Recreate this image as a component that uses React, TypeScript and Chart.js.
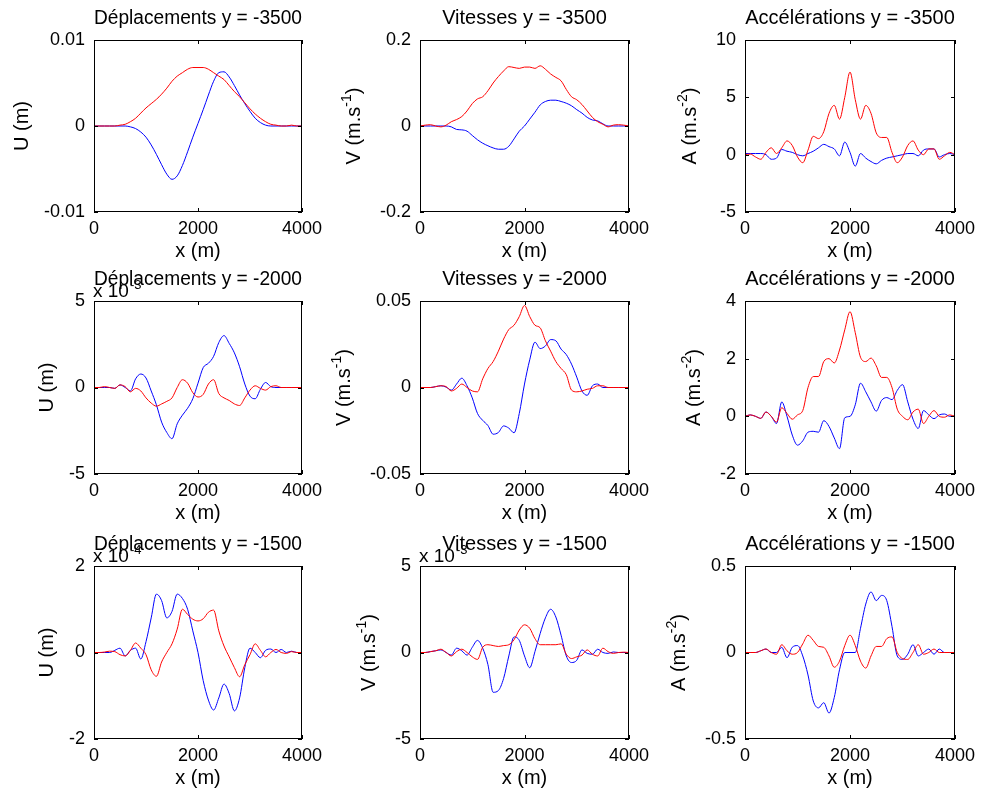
import React, { useEffect, useRef } from "react";
import { Chart, registerables } from "chart.js";

Chart.register(...registerables);

const FONT = '"Liberation Sans", Arial, Helvetica, sans-serif';

// x positions (m)
const xPositions = [0, 100, 200, 300, 400, 500, 600, 700, 800, 900, 1000, 1100, 1200, 1300, 1400, 1500, 1600, 1700, 1800, 1900, 2000, 2100, 2200, 2300, 2400, 2500, 2600, 2700, 2800, 2900, 3000, 3100, 3200, 3300, 3400, 3500, 3600, 3700, 3800, 3900, 4000];

// y = -3500
const uRed3500 = [0, 0, 0, 0, 0, 0.0001, 0.0002, 0.0005, 0.0009, 0.0015, 0.0021, 0.0026, 0.0031, 0.0037, 0.0044, 0.0052, 0.0058, 0.0062, 0.0066, 0.0068, 0.0068, 0.0068, 0.0066, 0.0062, 0.0058, 0.0054, 0.0047, 0.004, 0.0034, 0.0027, 0.002, 0.0014, 0.0009, 0.0005, 0.0002, 0.0001, 0, 0, 0.0001, 0, 0];
const uBlue3500 = [0, 0, 0, 0, 0, 0, 0, -0.0001, -0.0003, -0.0007, -0.0013, -0.0022, -0.0033, -0.0045, -0.0056, -0.0062, -0.0058, -0.0046, -0.003, -0.0013, 0.0003, 0.0019, 0.0036, 0.0052, 0.0062, 0.0063, 0.0057, 0.0047, 0.0036, 0.0026, 0.0017, 0.0009, 0.0004, 0.0001, 0, 0, 0, 0, 0, 0, 0];
const vRed3500 = [0, 0.002, 0.003, 0, -0.002, 0.002, 0.01, 0.015, 0.022, 0.035, 0.052, 0.063, 0.068, 0.082, 0.1, 0.115, 0.128, 0.138, 0.136, 0.134, 0.137, 0.137, 0.134, 0.14, 0.132, 0.121, 0.113, 0.105, 0.085, 0.068, 0.061, 0.05, 0.035, 0.02, 0.01, 0.004, -0.002, 0.002, 0.003, 0.002, 0];
const vBlue3500 = [0, 0, 0, 0, 0, 0, -0.002, -0.008, -0.009, -0.012, -0.022, -0.032, -0.04, -0.046, -0.051, -0.054, -0.054, -0.047, -0.03, -0.012, 0, 0.016, 0.032, 0.049, 0.057, 0.06, 0.06, 0.057, 0.053, 0.047, 0.038, 0.03, 0.02, 0.014, 0.012, 0.005, 0, 0, 0, 0, 0];
const aRed3500 = [0, 0.05, -0.2, -0.4, 0.2, 0.6, 0.1, 0.6, 1.2, 0.8, -0.2, -0.7, 0.4, 1.6, 1.4, 2.0, 3.6, 4.3, 3.1, 5.0, 7.2, 4.8, 3.1, 4.3, 3.6, 1.9, 1.5, 1.5, 0.2, -0.7, -0.2, 0.8, 1.2, 0.4, 0.0, 0.5, 0.5, -0.4, -0.1, 0.2, 0];
const aBlue3500 = [0.1, 0.1, 0.1, 0.1, 0.0, -0.4, -0.3, 0.45, 0.3, 0.2, 0.0, -0.1, 0.1, 0.3, 0.6, 0.9, 0.7, 0.5, -0.1, 1.1, 0.2, -1.0, 0.1, -0.3, -0.6, -0.8, -0.5, -0.3, -0.2, -0.1, 0.0, 0.1, 0.1, -0.1, 0.4, 0.5, 0.5, -0.2, 0.0, 0.1, 0];

// y = -2000
const uRed2000 = [0, 0, 0.05, 0, -0.05, 0.15, 0.05, -0.25, -0.05, -0.2, -0.6, -0.9, -1.08, -0.95, -0.8, -0.6, 0.0, 0.45, 0.25, -0.3, -0.55, -0.4, 0.2, 0.45, -0.35, -0.6, -0.75, -0.95, -1.04, -0.6, -0.15, 0.1, -0.05, -0.15, 0.05, 0.1, 0, 0, 0, 0, 0];
const uBlue2000 = [0, 0, 0, 0, -0.05, 0.15, 0.0, -0.2, 0.5, 0.78, 0.55, -0.2, -1.0, -2.0, -2.6, -2.96, -2.1, -1.6, -1.2, -0.65, 0.25, 1.15, 1.4, 1.8, 2.6, 3.0, 2.55, 2.0, 1.2, 0.2, -0.5, -0.65, -0.1, 0.29, 0.05, 0, 0, 0, 0, 0, 0];
const vRed2000 = [0, 0, 0, 0.0005, 0.001, 0.0005, -0.002, -0.0005, 0.002, 0, -0.002, -0.0025, 0.005, 0.011, 0.015, 0.021, 0.028, 0.0335, 0.036, 0.041, 0.0474, 0.041, 0.036, 0.0345, 0.027, 0.021, 0.015, 0.011, 0.0074, -0.0015, -0.0025, -0.002, -0.001, -0.0005, 0.001, 0.001, 0, 0, 0, 0, 0];
const vBlue2000 = [0, 0, 0, 0.0005, 0.001, 0.0002, -0.0015, 0.002, 0.0054, 0.001, -0.006, -0.015, -0.019, -0.022, -0.027, -0.026, -0.0222, -0.0235, -0.0262, -0.015, 0.002, 0.016, 0.0262, 0.0225, 0.024, 0.0277, 0.027, 0.0222, 0.019, 0.0135, 0.006, -0.002, -0.0045, 0.001, 0.002, 0, 0, 0, 0, 0, 0];
const aRed2000 = [0, 0.05, 0, -0.07, 0.15, 0, -0.2, 0.3, 0.1, -0.1, 0.05, 0.2, 1.0, 1.38, 1.38, 1.9, 2.0, 1.85, 2.3, 3.0, 3.63, 2.9, 2.05, 1.9, 2.02, 1.75, 1.35, 1.35, 1.0, 0.25, 0.0, -0.12, 0.15, 0.25, -0.25, 0.0, 0.2, 0.0, -0.03, 0.05, 0];
const aBlue2000 = [0, 0.05, 0, -0.07, 0.15, 0, -0.25, 0.5, 0.0, -0.65, -1.0, -0.85, -0.55, -0.52, -0.55, -0.15, -0.35, -0.75, -1.12, -0.05, 0.0, 0.4, 1.15, 0.85, 0.5, 0.18, 0.55, 0.65, 0.58, 0.9, 1.1, 0.5, -0.1, -0.42, 0.2, 0.05, -0.08, 0.05, 0.08, 0, 0];

// y = -1500
const uRed1500 = [0, 0, 0.01, 0.03, 0.02, -0.05, -0.08, 0.05, 0.22, 0.1, -0.05, -0.4, -0.55, -0.22, 0.0, 0.2, 0.54, 1.0, 0.88, 0.77, 0.73, 0.78, 0.93, 0.98, 0.5, 0.15, -0.1, -0.35, -0.56, -0.28, -0.05, 0.2, 0.05, -0.1, 0.0, 0.07, 0.0, -0.02, 0.02, 0, 0];
const uBlue1500 = [0, 0, 0, 0, 0.05, 0.1, -0.08, 0.05, 0.1, -0.15, 0.25, 0.8, 1.35, 1.2, 0.8, 0.95, 1.35, 1.25, 1.0, 0.5, 0.0, -0.65, -1.1, -1.33, -1.05, -0.73, -0.95, -1.35, -1.05, -0.35, 0.1, 0.0, -0.12, 0.05, 0.08, 0.0, 0.07, 0.0, 0.03, 0, 0];
const vRed1500 = [0, 0, 0.05, 0.1, 0.19, 0.0, -0.2, 0.05, 0.19, 0.0, -0.25, -0.4, 0.3, 0.45, 0.4, 0.35, 0.4, 0.45, 0.74, 1.3, 1.6, 1.4, 0.8, 0.45, 0.45, 0.45, 0.45, 0.5, -0.1, -0.35, -0.25, -0.15, 0.15, -0.1, -0.2, 0.25, 0.05, -0.05, 0.0, 0.02, 0];
const vBlue1500 = [0, 0, 0.05, 0.1, 0.15, 0.0, -0.15, 0.25, 0.1, -0.15, 0.3, 0.7, 0.25, -0.7, -2.3, -2.2, -1.5, -0.2, 0.9, 0.7, -0.2, -0.88, 0.05, 1.1, 2.0, 2.5, 2.05, 1.0, -0.2, -0.58, -0.45, 0.15, -0.05, -0.1, 0.19, 0.0, -0.05, 0.03, 0.0, 0, 0];
const aRed1500 = [0, 0, 0, 0.01, 0.02, 0.0, -0.01, 0.045, 0.01, -0.01, 0.0, 0.05, 0.1, 0.07, 0.035, 0.03, -0.02, -0.085, -0.05, 0.04, 0.1, 0.04, -0.05, -0.09, -0.02, 0.035, 0.035, 0.08, 0.09, 0.0, -0.035, -0.04, 0.0, 0.045, -0.01, 0.0, 0.02, 0.0, 0.0, 0, 0];
const aBlue1500 = [0, 0, 0, 0.01, 0.02, 0.0, 0.0, 0.03, -0.03, 0.03, 0.04, -0.02, -0.13, -0.28, -0.32, -0.29, -0.35, -0.26, -0.1, 0.0, 0.0, 0.0, 0.14, 0.28, 0.35, 0.3, 0.33, 0.3, 0.15, -0.02, -0.04, -0.01, 0.045, -0.02, 0.0, 0.02, -0.01, 0.02, 0.0, 0, 0];

// axis ticks
const xTickStep = 2000;
const panelTitles = [
  "Déplacements y = -3500", "Vitesses y = -3500", "Accélérations y = -3500",
  "Déplacements y = -2000", "Vitesses y = -2000", "Accélérations y = -2000",
  "Déplacements y = -1500", "Vitesses y = -1500", "Accélérations y = -1500",
];
const yMins = [-0.01, -0.2, -5, -5, -0.05, -2, -2, -5, -0.5];
const yMaxs = [0.01, 0.2, 10, 5, 0.05, 4, 2, 5, 0.5];
const ySteps = [0.01, 0.2, 5, 5, 0.05, 2, 2, 5, 0.5];
const exponents = ["", "", "", "-3", "", "", "-4", "-3", ""];
const redSeries = [uRed3500, vRed3500, aRed3500, uRed2000, vRed2000, aRed2000, uRed1500, vRed1500, aRed1500];
const blueSeries = [uBlue3500, vBlue3500, aBlue3500, uBlue2000, vBlue2000, aBlue2000, uBlue1500, vBlue1500, aBlue1500];
const yLabelMain = ["U (m)", "V (m.s", "A (m.s"];
const yLabelSup = ["", "-1", "-2"];
const yLabelClose = ["", ")", ")"];

// layout
const COL_LEFT = [94, 420, 745];
const COL_W = [208, 209, 210];
const ROW_TOP = [40, 301, 566];
const ROW_H = [172, 173, 173];
const L_MARGIN = 94;
const T_MARGIN = 40;
const R_MARGIN = 30;
const B_MARGIN = 58;
const TICK_FONT = 18;
const LABEL_FONT = 20;
const TICK_PAD = 9;

const fmt = (v: number) => {
  const n = Number(Number(v).toPrecision(6));
  return n === 0 ? "0" : String(n);
};

const decorPlugin = {
  id: "decor",
  afterDraw(chart: any, _args: any, opts: any) {
    const { ctx, chartArea } = chart;
    const { left, right, top, bottom } = chartArea;
    const xs = chart.scales.x;
    const ys = chart.scales.y;
    ctx.save();
    ctx.strokeStyle = "#000";
    ctx.lineWidth = 1;
    ctx.strokeRect(left + 0.5, top + 0.5, right - left - 1, bottom - top - 1);
    ctx.beginPath();
    xs.ticks.forEach((t: any) => {
      const px = Math.round(xs.getPixelForValue(t.value)) + 0.5;
      ctx.moveTo(px, bottom);
      ctx.lineTo(px, bottom - 4);
      ctx.moveTo(px, top);
      ctx.lineTo(px, top + 4);
    });
    ys.ticks.forEach((t: any) => {
      const py = Math.round(ys.getPixelForValue(t.value)) + 0.5;
      ctx.moveTo(left, py);
      ctx.lineTo(left + 4, py);
      ctx.moveTo(right, py);
      ctx.lineTo(right - 4, py);
    });
    ctx.stroke();

    // y axis label (with superscript)
    ctx.font = `${TICK_FONT}px ${FONT}`;
    let maxW = 0;
    ys.ticks.forEach((t: any) => {
      maxW = Math.max(maxW, ctx.measureText(fmt(t.value)).width);
    });
    const labelsLeft = left - TICK_PAD - maxW;
    const cx = labelsLeft - 23 - (opts.sup ? 4 : 0);
    const cy = (top + bottom) / 2;
    const mainFont = `${LABEL_FONT}px ${FONT}`;
    const supFont = `14px ${FONT}`;
    ctx.font = mainFont;
    const w1 = ctx.measureText(opts.main).width;
    const w3 = opts.close ? ctx.measureText(opts.close).width : 0;
    ctx.font = supFont;
    const w2 = opts.sup ? ctx.measureText(opts.sup).width : 0;
    ctx.translate(cx, cy);
    ctx.rotate(-Math.PI / 2);
    ctx.fillStyle = "#000";
    ctx.textBaseline = "alphabetic";
    ctx.textAlign = "left";
    let x = -(w1 + w2 + w3) / 2;
    ctx.font = mainFont;
    ctx.fillText(opts.main, x, 7);
    x += w1;
    if (opts.sup) {
      ctx.font = supFont;
      ctx.fillText(opts.sup, x, -2);
      x += w2;
      ctx.font = mainFont;
      ctx.fillText(opts.close, x, 7);
    }
    ctx.setTransform(1, 0, 0, 1, 0, 0);

    // exponent multiplier
    if (opts.exponent) {
      ctx.fillStyle = "#000";
      ctx.textBaseline = "alphabetic";
      ctx.textAlign = "left";
      ctx.font = `19px ${FONT}`;
      const base = "x 10";
      ctx.fillText(base, left - 1, top - 4);
      const bw = ctx.measureText(base).width;
      ctx.font = `13px ${FONT}`;
      ctx.fillText(opts.exponent, left - 1 + bw + 1, top - 12);
    }
    ctx.restore();
  },
};

type PanelProps = { index: number };

function Panel({ index }: PanelProps) {
  const ref = useRef<HTMLCanvasElement>(null);
  const row = Math.floor(index / 3);
  const col = index % 3;
  const plotLeft = COL_LEFT[col];
  const plotTop = ROW_TOP[row];
  const w = L_MARGIN + COL_W[col] + R_MARGIN;
  const h = T_MARGIN + ROW_H[row] + B_MARGIN;
  const canvasLeft = plotLeft - L_MARGIN;
  const canvasTop = plotTop - T_MARGIN;

  useEffect(() => {
    if (!ref.current) return;
    const red = redSeries[index];
    const blue = blueSeries[index];
    const chart = new Chart(ref.current, {
      type: "line",
      data: {
        datasets: [
          {
            label: "red",
            data: xPositions.map((x, i) => ({ x, y: red[i] })),
            borderColor: "#ff0000",
            backgroundColor: "#ff0000",
            borderWidth: 1,
            pointRadius: 0,
            fill: false,
            cubicInterpolationMode: "monotone",
            order: 0,
          },
          {
            label: "blue",
            data: xPositions.map((x, i) => ({ x, y: blue[i] })),
            borderColor: "#0000ff",
            backgroundColor: "#0000ff",
            borderWidth: 1,
            pointRadius: 0,
            fill: false,
            cubicInterpolationMode: "monotone",
            order: 1,
          },
        ],
      },
      options: {
        responsive: false,
        animation: false,
        events: [],
        layout: { padding: { top: 6, right: R_MARGIN, bottom: 0, left: 0 } },
        plugins: {
          legend: { display: false },
          tooltip: { enabled: false },
          title: {
            display: true,
            text: panelTitles[index],
            fullSize: false,
            color: "#000",
            font: { family: FONT, size: LABEL_FONT, weight: "normal", lineHeight: 1.2 },
            padding: { top: 0, bottom: 10 },
          },
          decor: {
            main: yLabelMain[col],
            sup: yLabelSup[col],
            close: yLabelClose[col],
            exponent: exponents[index],
          },
        } as any,
        scales: {
          x: {
            type: "linear",
            min: 0,
            max: 4000,
            afterFit: (s: any) => {
              s.height = B_MARGIN;
            },
            grid: { display: false, drawTicks: false },
            border: { display: false },
            ticks: {
              stepSize: xTickStep,
              color: "#000",
              font: { family: FONT, size: TICK_FONT },
              padding: 6,
              maxRotation: 0,
              autoSkip: false,
              callback: (v: any) => String(v),
            },
            title: {
              display: true,
              text: "x (m)",
              color: "#000",
              font: { family: FONT, size: LABEL_FONT, lineHeight: 1.2 },
              padding: { top: 0, bottom: 7 },
            },
          },
          y: {
            type: "linear",
            min: yMins[index],
            max: yMaxs[index],
            afterFit: (s: any) => {
              s.width = L_MARGIN;
            },
            grid: { display: false, drawTicks: false },
            border: { display: false },
            ticks: {
              stepSize: ySteps[index],
              color: "#000",
              font: { family: FONT, size: TICK_FONT },
              padding: TICK_PAD,
              autoSkip: false,
              callback: (v: any) => fmt(Number(v)),
            },
          },
        },
      },
      plugins: [decorPlugin as any],
    });
    return () => chart.destroy();
  }, [index]);

  return (
    <canvas
      ref={ref}
      width={w}
      height={h}
      style={{ position: "absolute", left: canvasLeft, top: canvasTop, width: w, height: h }}
    />
  );
}

export default function App() {
  const panels = [0, 1, 2, 3, 4, 5, 6, 7, 8];
  return (
    <div
      style={{
        position: "absolute",
        left: 0,
        top: 0,
        width: 985,
        height: 796,
        overflow: "hidden",
        background: "#fff",
      }}
    >
      {panels.map((i) => (
        <Panel key={i} index={i} />
      ))}
    </div>
  );
}
